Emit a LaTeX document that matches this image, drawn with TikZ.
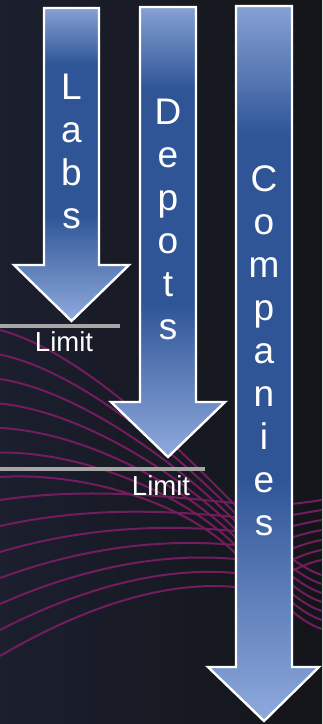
\documentclass[tikz,border=0pt]{standalone}
\usepackage{fontspec}
\setmainfont{Liberation Sans}

\definecolor{bgleft}{HTML}{1B1F2E}
\definecolor{bgright}{HTML}{141519}
\definecolor{wavecol}{HTML}{731C5E}
\definecolor{arrowtop}{HTML}{86A1D4}
\definecolor{arrowtip}{HTML}{8FAADD}
\definecolor{arrowdark}{HTML}{2F5597}
\definecolor{limitgray}{HTML}{A6A6A6}

% light at the top, dark through the middle, light again towards the tip
\pgfdeclareverticalshading{arrowfill}{100bp}{%
  color(0bp)=(arrowtip); color(25bp)=(arrowtip);
  color(42bp)=(arrowdark); color(66bp)=(arrowdark);
  color(75bp)=(arrowtop); color(100bp)=(arrowtop)}

\tikzset{
  downarrow/.style={shade, shading=arrowfill, draw=white, line width=2.4pt, line join=miter},
  letters/.style={text=white, font=\fontsize{37}{43}\selectfont, align=center,
                  inner sep=0pt, anchor=north},
  limitline/.style={draw=limitgray, line width=3.5pt},
  limittext/.style={text=white, font=\fontsize{27.5}{32}\selectfont, inner sep=0pt, anchor=base},
  wave/.style={draw=wavecol, line width=2pt}
}

\begin{document}
\begin{tikzpicture}[x=1pt, y=-1pt]
  % backdrop
  \useasboundingbox (0,0) rectangle (322,724);
  \shade[left color=bgleft, right color=bgright] (0,0) rectangle (322,724);

  \begin{scope}
    \clip (0,0) rectangle (322,724);
    % upper family: arches that dive down to the right
    \foreach \i in {0,...,6}{
      \pgfmathsetmacro\ya{330+24.5*\i}
      \pgfmathsetmacro\ym{505+8*\i}
      \pgfmathsetmacro\yb{\ya+5+0.1*(\ym-\ya)-3*\i}
      \pgfmathsetmacro\yc{\ym-50}
      \pgfmathsetmacro\yd{\ym+28}
      \pgfmathsetmacro\yr{575+9*\i}
      \pgfmathsetmacro\ye{\yr-8}
      \draw[wave] (0,\ya) .. controls (85,\yb) and (185,\yc) .. (235,\ym)
                          .. controls (260,\yd) and (295,\ye) .. (322,\yr);
    }
    % lower family: gentle rises that level off to the right
    \foreach \j in {0,...,6}{
      \pgfmathsetmacro\ya{500+26*\j}
      \pgfmathsetmacro\ym{503+14*\j}
      \pgfmathsetmacro\yb{\ya-0.55*(\ya-\ym)-15}
      \pgfmathsetmacro\yc{\ym-6}
      \pgfmathsetmacro\yd{\ym+5}
      \pgfmathsetmacro\yr{500+10*\j}
      \pgfmathsetmacro\ye{\yr+4}
      \draw[wave] (0,\ya) .. controls (90,\yb) and (170,\yc) .. (235,\ym)
                          .. controls (265,\yd) and (295,\ye) .. (322,\yr);
    }
  \end{scope}

  % limit marks
  \coordinate (l1a) at (0,326);  \coordinate (l1b) at (120,326);
  \coordinate (l2a) at (0,469);  \coordinate (l2b) at (205,469);
  \draw[limitline] (l1a) -- (l1b);
  \draw[limitline] (l2a) -- (l2b);
  \node[limittext] (limit1) at (64,351) {Limit};
  \node[limittext] (limit2) at (161,495) {Limit};

  % the three arrows
  \path[downarrow] (44,8) -- (99,8) -- (99,265) -- (129,265) -- (71.5,321)
                   -- (14,265) -- (44,265) -- cycle;
  \path[downarrow] (140,7) -- (196,7) -- (196,402) -- (225,402) -- (168,457)
                   -- (111,402) -- (140,402) -- cycle;
  \path[downarrow] (236,6) -- (292,6) -- (292,667) -- (319,667) -- (264,721)
                   -- (208,667) -- (236,667) -- cycle;

  % stacked labels
  \node[letters] (labs) at (71.5,73.5) {L\\a\\b\\s};
  \node[letters] (depots) at (168,98.5) {D\\e\\p\\o\\t\\s};
  \node[letters] (companies) at (264,165) {C\\o\\m\\p\\a\\n\\i\\e\\s};
\end{tikzpicture}
\end{document}
